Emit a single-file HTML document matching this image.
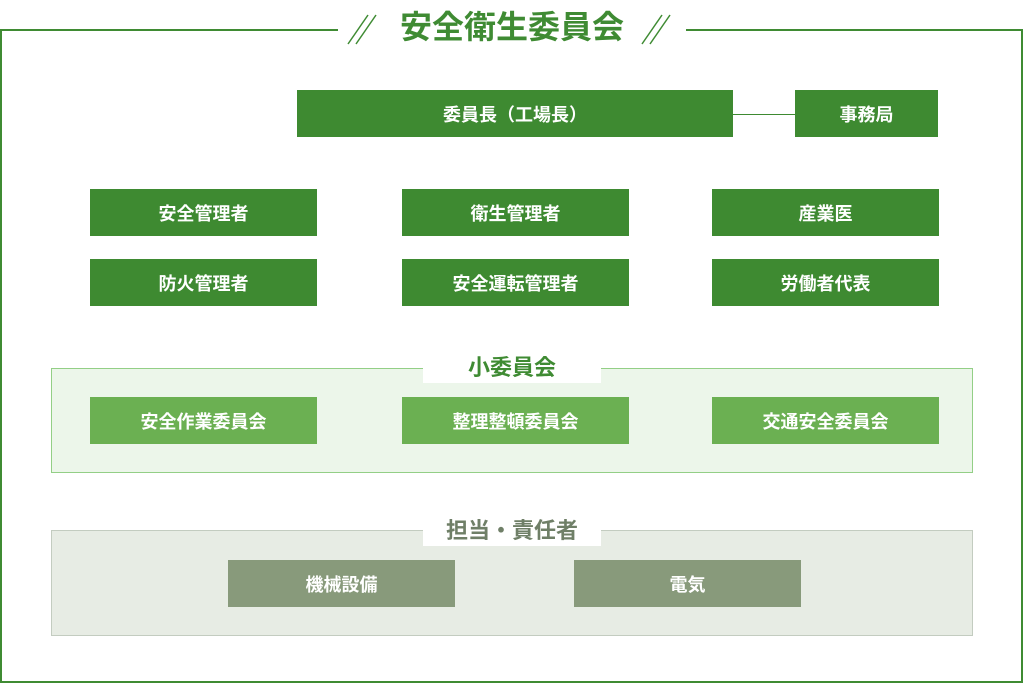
<!DOCTYPE html>
<html><head><meta charset="utf-8"><style>
body{margin:0;width:1024px;height:683px;background:#fff;position:relative;overflow:hidden;font-family:"Liberation Sans","Noto Sans CJK JP",sans-serif;}
.a{position:absolute;box-sizing:border-box}
.b{position:absolute;display:flex;align-items:center;justify-content:center;color:#fff;font-weight:bold;font-size:18px}
.d{background:#3e8a31}
.l{background:#6bb052}
.g{background:#889a7b}
</style></head><body>
<div class="a" style="left:0;top:29px;width:1023px;height:654px;border:2px solid #3f8b33"></div>
<div class="a" style="left:338px;top:12px;width:348px;height:34px;background:#fff"></div>
<svg class="a" style="left:340px;top:10px" width="350" height="40">
<g stroke="#3f8b33" stroke-width="1.5"><line x1="8" y1="34" x2="28" y2="5"/><line x1="16" y1="34" x2="36" y2="5"/><line x1="302" y1="34" x2="322" y2="5"/><line x1="310" y1="34" x2="330" y2="5"/></g></svg>
<div class="a" style="left:380px;top:7px;width:264px;text-align:center;font-size:32px;font-weight:bold;color:#3f8b33;line-height:40px">安全衛生委員会</div>

<div class="a" style="left:733px;top:114px;width:62px;height:1px;background:#3e8a31"></div>
<div class="b d" style="left:297px;top:90px;width:436px;height:47px">委員長（工場長）</div>
<div class="b d" style="left:795px;top:90px;width:143px;height:47px">事務局</div>

<div class="b d" style="left:90px;top:189px;width:227px;height:47px">安全管理者</div>
<div class="b d" style="left:402px;top:189px;width:227px;height:47px">衛生管理者</div>
<div class="b d" style="left:712px;top:189px;width:227px;height:47px">産業医</div>
<div class="b d" style="left:90px;top:259px;width:227px;height:47px">防火管理者</div>
<div class="b d" style="left:402px;top:259px;width:227px;height:47px">安全運転管理者</div>
<div class="b d" style="left:712px;top:259px;width:227px;height:47px">労働者代表</div>

<div class="a" style="left:51px;top:368px;width:922px;height:105px;background:#ecf6ea;border:1px solid #93cf86"></div>
<div class="a" style="left:423px;top:353px;width:178px;height:30px;background:#fff;text-align:center;font-size:22px;font-weight:bold;color:#3f8b33;line-height:30px">小委員会</div>
<div class="b l" style="left:90px;top:397px;width:227px;height:47px">安全作業委員会</div>
<div class="b l" style="left:402px;top:397px;width:227px;height:47px">整理整頓委員会</div>
<div class="b l" style="left:712px;top:397px;width:227px;height:47px">交通安全委員会</div>

<div class="a" style="left:51px;top:530px;width:922px;height:106px;background:#e7ece4;border:1px solid #c3ccc0"></div>
<div class="a" style="left:423px;top:516px;width:178px;height:30px;background:#fff;text-align:center;font-size:22px;font-weight:bold;color:#6f7f67;line-height:30px">担当・責任者</div>
<div class="b g" style="left:228px;top:560px;width:227px;height:47px">機械設備</div>
<div class="b g" style="left:574px;top:560px;width:227px;height:47px">電気</div>
</body></html>
